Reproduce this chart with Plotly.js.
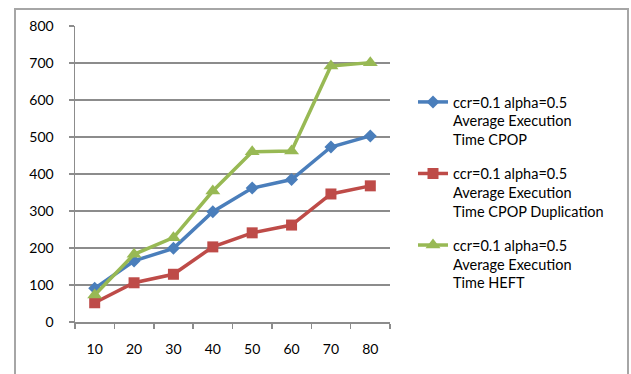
<!DOCTYPE html>
<html>
<head>
<meta charset="utf-8">
<script src="https://cdn.plot.ly/plotly-3.0.1.min.js"></script>
<style>html,body{margin:0;padding:0;background:#fff;}#chart{width:631px;height:374px;}</style>
</head>
<body>
<div id="chart"></div>
<script>
// ---- data ----
const categories = ["10", "20", "30", "40", "50", "60", "70", "80"];
const cpop = [91, 165, 199, 298, 362, 385, 473, 503];
const cpopDup = [52, 106, 129, 203, 241, 262, 346, 368];
const heft = [73, 183, 228, 354, 460, 462, 692, 701];
const seriesNames = [
  "ccr=0.1 alpha=0.5<br>Average Execution<br>Time CPOP",
  "ccr=0.1 alpha=0.5<br>Average Execution<br>Time CPOP Duplication",
  "ccr=0.1 alpha=0.5<br>Average Execution<br>Time HEFT"
];
const yTicks = [0, 100, 200, 300, 400, 500, 600, 700, 800];

// ---- layout helpers (pixels -> paper) ----
const W = 631, H = 374;
const M = {l: 75, r: W - 390, t: 26, b: H - 322};
const pw = W - M.l - M.r, ph = H - M.t - M.b;
const px = x => (x - M.l) / pw;
const py = y => (H - M.b - y) / ph;

const font = "Lato, 'Liberation Sans', sans-serif";

const traces = [
  {x: categories, y: cpop, name: seriesNames[0], type: "scatter", mode: "lines+markers",
   line: {color: "#4a7ebb", width: 3.5}, marker: {symbol: "diamond", size: 10, color: "#4a7ebb"}, legendgroup: "a"},
  {x: categories, y: cpopDup, name: seriesNames[1], type: "scatter", mode: "lines+markers",
   line: {color: "#be4b48", width: 3.5}, marker: {symbol: "square", size: 11, color: "#be4b48"}, legendgroup: "b"},
  {x: categories, y: heft, name: seriesNames[2], type: "scatter", mode: "lines+markers",
   line: {color: "#98b954", width: 3.5}, marker: {symbol: "triangle-up", size: 13, color: "#98b954"}, legendgroup: "c"}
];

const layout = {
  width: W, height: H,
  margin: M,
  paper_bgcolor: "#fff", plot_bgcolor: "#fff",
  font: {family: font, size: 14, color: "#000"},
  showlegend: true,
  legend: {
    x: px(413), y: py(86), xanchor: "left", yanchor: "top",
    font: {family: font, size: 14.5, color: "#000"},
    tracegroupgap: 12, bgcolor: "rgba(0,0,0,0)", valign: "top"
  },
  xaxis: {
    type: "category", categoryarray: categories,
    showline: true, linecolor: "#8c8c8c", linewidth: 1.5,
    showgrid: false, zeroline: false,
    ticks: "outside", tickson: "boundaries", ticklen: 5, tickcolor: "#8c8c8c", tickwidth: 1.5,
    ticklabelstandoff: 14,
    tickfont: {family: font, size: 14, color: "#000"},
    range: [-0.5, 7.5], fixedrange: true
  },
  yaxis: {
    range: [0, 800], tickvals: yTicks, ticktext: yTicks.map(String),
    showline: true, linecolor: "#8c8c8c", linewidth: 1.5,
    showgrid: true, gridcolor: "#8c8c8c", gridwidth: 1.2,
    zeroline: false,
    ticks: "outside", ticklen: 5, tickcolor: "#8c8c8c", tickwidth: 1.5,
    ticklabelstandoff: 12,
    tickfont: {family: font, size: 14, color: "#000"},
    fixedrange: true
  },
  shapes: [
    {type: "rect", xref: "paper", yref: "paper",
     x0: px(15), x1: px(628), y0: py(390), y1: py(9),
     line: {color: "#a6a6a6", width: 2}, fillcolor: "rgba(0,0,0,0)", layer: "below"}
  ]
};

Plotly.newPlot("chart", traces, layout, {displayModeBar: false, staticPlot: true});
</script>
</body>
</html>
